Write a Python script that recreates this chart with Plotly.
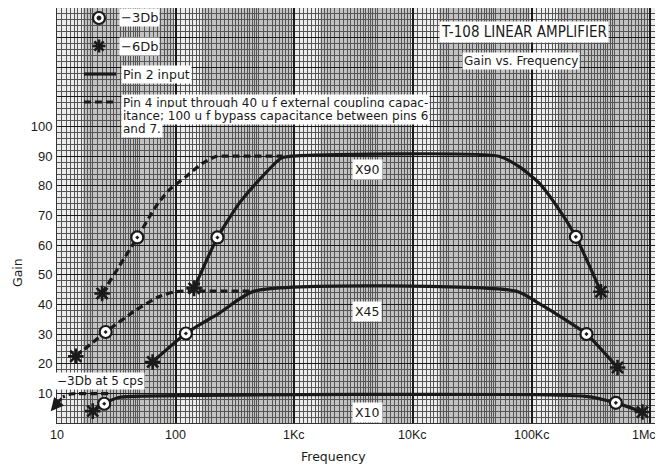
import math
import plotly.graph_objects as go

# ---------------- data ----------------
# Pin 2 input (solid)
pin2_x90_f = [143, 225, 343, 505, 770, 950, 53000, 78500, 116000, 171000, 236000, 384000]
pin2_x90_g = [45.4, 62.6, 74.1, 82.0, 89.3, 90, 90, 86.5, 80.9, 71.9, 62.8, 44.3]
pin2_x45_f = [64, 122, 232, 460, 74000, 116000, 195000, 290000, 530000]
pin2_x45_g = [20.6, 30.2, 37.0, 44.5, 44.5, 40.3, 34.7, 30.0, 18.7]
pin2_x10_f = [20, 25, 33, 45, 287000, 513000, 860000]
pin2_x10_g = [4.0, 6.5, 8.6, 9.0, 9.0, 6.8, 3.7]

# Pin 4 input (dashed)
pin4_x90_f = [24, 47.5, 68, 88, 122, 168, 218, 300, 800]
pin4_x90_g = [43.7, 62.6, 73.0, 78.6, 83.1, 87.6, 89.9, 90, 90]
pin4_x45_f = [14.4, 25.7, 46, 72, 100, 150, 430]
pin4_x45_g = [22.5, 30.7, 38.0, 42.6, 44.3, 44.5, 44.5]
pin4_x10_f = [27, 20, 15, 13, 11.2]
pin4_x10_g = [9.9, 9.9, 9.9, 9.8, 8.8]
pin4_x10_arrow_f = 8.85
pin4_x10_arrow_g = 4.0

# -3Db points (circle) and -6Db points (asterisk)
db3_f = [225, 236000, 122, 290000, 25, 513000, 47.5, 25.7]
db3_g = [62.6, 62.8, 30.2, 30.0, 6.5, 6.8, 62.6, 30.7]
db6_f = [143, 384000, 64, 530000, 20, 860000, 24, 14.4]
db6_g = [45.4, 44.3, 20.6, 18.7, 4.0, 3.7, 43.7, 22.5]

x_tick_vals = [10, 100, 1000, 10000, 100000, 1000000]
x_tick_text = ["10", "100", "1Kc", "10Kc", "100Kc", "1Mc"]
y_tick_vals = [0, 10, 20, 30, 40, 50, 60, 70, 80, 90, 100, 110, 120, 130, 140]
y_tick_text = ["", "10", "20", "30", "40", "50", "60", "70", "80", "90", "100", "", "", "", ""]

curve_labels = ["X90", "X45", "X10"]
curve_label_pos = [(4110, 85.4), (4110, 37.7), (4110, 3.6)]

# ---------------- layout geometry (page pixels) ----------------
PAGE_W, PAGE_H = 663, 467
BODY = 8                      # default page margin around the plot div
W, H = PAGE_W - BODY, PAGE_H - BODY
X0, X1, Y0, Y1 = 57, 655, 8, 423   # plot area in page pixels
XR = [1.0, 6.04]
YR = [0, 140]

def px(x):
    return (x - X0) / (X1 - X0)

def py(y):
    return (Y1 - y) / (Y1 - Y0)

def lx(f):  # frequency -> paper x
    return (math.log10(f) - XR[0]) / (XR[1] - XR[0])

FONT = "DejaVu Sans, Liberation Sans, sans-serif"
NARROW = "DejaVu Sans Condensed, Liberation Sans Narrow, sans-serif"
TICKFONT = "Liberation Sans, Arial, sans-serif"
INK = "#1a1a1a"

fig = go.Figure()

solid = dict(color=INK, width=3.2)
dashed = dict(color=INK, width=3.2, dash="7px,4px")

for f, g in [(pin4_x90_f, pin4_x90_g), (pin4_x45_f, pin4_x45_g), (pin4_x10_f, pin4_x10_g)]:
    fig.add_trace(go.Scatter(x=f, y=g, mode="lines", line=dashed, line_shape="spline",
                             line_smoothing=0.6, showlegend=False, hoverinfo="skip",
                             cliponaxis=False))
for f, g in [(pin2_x90_f, pin2_x90_g), (pin2_x45_f, pin2_x45_g), (pin2_x10_f, pin2_x10_g)]:
    fig.add_trace(go.Scatter(x=f, y=g, mode="lines", line=solid, line_shape="spline",
                             line_smoothing=0.6, showlegend=False, hoverinfo="skip"))

fig.add_trace(go.Scatter(x=db3_f, y=db3_g, mode="markers", showlegend=False,
                         marker=dict(symbol="circle-dot", size=12, color="white",
                                     line=dict(color=INK, width=2.2))))
fig.add_trace(go.Scatter(x=db6_f, y=db6_g, mode="markers", showlegend=False,
                         marker=dict(symbol="asterisk-open", size=13, color=INK,
                                     line=dict(color=INK, width=2.6))))

annotations = []
# arrow at the end of the dashed X10 curve
annotations.append(dict(x=math.log10(pin4_x10_arrow_f), y=pin4_x10_arrow_g,
                        ax=math.log10(pin4_x10_f[-1]), ay=pin4_x10_g[-1],
                        xref="x", yref="y", axref="x", ayref="y", text="",
                        showarrow=True, arrowhead=2, arrowsize=1, arrowwidth=2.6,
                        arrowcolor=INK))

# x tick labels (the last one is kept inside the window edge)
for i, (v, t) in enumerate(zip(x_tick_vals, x_tick_text)):
    last = i == len(x_tick_vals) - 1
    annotations.append(dict(text=t, xref="paper" if last else "x", yref="paper",
                            x=px(658) if last else math.log10(v), y=py(435),
                            xanchor="right" if last else "center", yanchor="middle",
                            showarrow=False,
                            font=dict(family=TICKFONT, size=12.5, color=INK)))

# ---------------- background bands of the log paper ----------------
shapes = []
for d in range(1, 6):
    shapes.append(dict(type="rect", xref="paper", yref="paper", layer="below",
                       x0=lx(10 ** (d + 0.22)), x1=lx(10 ** (d + 1)) - 0.003,
                       y0=0, y1=1, line=dict(width=0), fillcolor="#c2c2c2"))

# ---------------- legend (drawn as decoration) ----------------
lg_x = 99
shapes.append(dict(type="circle", xref="paper", yref="paper", xsizemode="pixel",
                   ysizemode="pixel", xanchor=px(lg_x), yanchor=py(18),
                   x0=-6, x1=6, y0=-6, y1=6, line=dict(color=INK, width=2.2),
                   fillcolor="white"))
shapes.append(dict(type="circle", xref="paper", yref="paper", xsizemode="pixel",
                   ysizemode="pixel", xanchor=px(lg_x), yanchor=py(18),
                   x0=-2, x1=2, y0=-2, y1=2, line=dict(color=INK, width=1),
                   fillcolor=INK))
for ang in (0, 45, 90, 135):
    r = 6.5
    dx = r * math.cos(math.radians(ang))
    dy = r * math.sin(math.radians(ang))
    shapes.append(dict(type="line", xref="paper", yref="paper", xsizemode="pixel",
                       ysizemode="pixel", xanchor=px(lg_x), yanchor=py(46),
                       x0=-dx, x1=dx, y0=-dy, y1=dy, line=dict(color=INK, width=2.6)))
shapes.append(dict(type="line", xref="paper", yref="paper", x0=px(84), x1=px(116),
                   y0=py(74), y1=py(74), line=dict(color=INK, width=3.2)))
shapes.append(dict(type="line", xref="paper", yref="paper", x0=px(84), x1=px(116),
                   y0=py(102), y1=py(102), line=dict(color=INK, width=3.2, dash="7px,4px")))


def label(text, x, y, size=12.5, font=FONT, xanchor="left", pad=1):
    annotations.append(dict(text=text, xref="paper", yref="paper", x=px(x), y=py(y),
                            xanchor=xanchor, yanchor="middle", showarrow=False,
                            font=dict(family=font, size=size, color=INK),
                            bgcolor="white", borderpad=pad, align="left"))

label("−3Db", 119, 18, size=13)
label("−6Db", 119, 46, size=13)
label("Pin 2 input", 121, 74, size=12.5)
label("Pin 4 input through 40 u f external coupling capac-", 121, 103, size=12)
label("itance; 100 u f bypass capacitance between pins 6", 121, 116, size=12)
label("and 7.", 121, 129, size=12)
label("T-108 LINEAR AMPLIFIER", 524, 32, size=15, font=NARROW, xanchor="center")
label("Gain vs. Frequency", 521, 61, size=12, xanchor="center")
label("−3Db at 5 cps", 55, 381, size=12)

for t, (fx, gy) in zip(curve_labels, curve_label_pos):
    annotations.append(dict(text=t, x=math.log10(fx), y=gy, xref="x", yref="y",
                            showarrow=False, bgcolor="white", borderpad=2,
                            font=dict(family=FONT, size=12.5, color=INK)))

# axis titles
annotations.append(dict(text="Frequency", xref="paper", yref="paper", x=px(333),
                        y=py(456), xanchor="center", yanchor="middle", showarrow=False,
                        font=dict(family=FONT, size=12.5, color=INK)))
annotations.append(dict(text="Gain", xref="paper", yref="paper", x=px(17),
                        y=py(273), xanchor="center", yanchor="middle", showarrow=False,
                        textangle=-90, font=dict(family=FONT, size=12.5, color=INK)))

# minor vertical grid values of the log paper
minor_x = []
for d in [10, 100, 1000, 10000, 100000]:
    for m in [1.1, 1.2, 1.3, 1.4, 1.5, 1.6, 1.7, 1.8, 1.9, 2.0, 2.2, 2.4, 2.6, 2.8,
              3.0, 3.2, 3.4, 3.6, 3.8, 4.0, 4.2, 4.4, 4.6, 4.8, 5.0, 5.5, 6.0,
              6.5, 7.0, 7.5, 8.0, 8.5, 9.0, 9.5]:
        minor_x.append(d * m)
minor_x += [1.1e6]

fig.update_layout(
    width=W, height=H,
    margin=dict(l=X0 - BODY, r=PAGE_W - X1, t=Y0 - BODY, b=PAGE_H - Y1, autoexpand=False),
    paper_bgcolor="white", plot_bgcolor="#ececec",
    shapes=shapes, annotations=annotations,
    font=dict(family=FONT, color=INK),
    xaxis=dict(type="log", range=XR, tickmode="array", tickvals=x_tick_vals,
               ticktext=x_tick_text, showticklabels=False,
               showgrid=True, gridcolor="#1a1a1a", gridwidth=1.6,
               ticks="", zeroline=False, automargin=False,
               showline=True, linecolor="#333", linewidth=1, mirror=True,
               minor=dict(tickmode="array", tickvals=minor_x, showgrid=True,
                          gridcolor="#555555", gridwidth=0.7, ticks="")),
    yaxis=dict(range=YR, tickmode="array", tickvals=y_tick_vals, ticktext=y_tick_text,
               showgrid=True, gridcolor="#1a1a1a", gridwidth=1.4,
               tickfont=dict(family=TICKFONT, size=13, color=INK), ticks="", zeroline=False,
               automargin=False, ticklabelstandoff=1, ticklabeloverflow="allow",
               showline=True, linecolor="#333", linewidth=1, mirror=True,
               minor=dict(dtick=2, showgrid=True, gridcolor="#555555", gridwidth=0.7, ticks="")),
)

fig.write_html("out.html")
